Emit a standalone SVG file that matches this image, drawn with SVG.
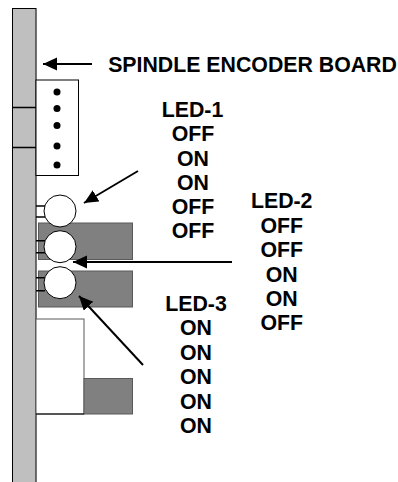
<svg xmlns="http://www.w3.org/2000/svg" width="398" height="482" viewBox="0 0 398 482">
<style>
text{font-family:"Liberation Sans",Arial,sans-serif;font-weight:bold;font-size:21.300px;fill:#000;text-anchor:middle}
.g{fill:#808080;stroke:#595959;stroke-width:1}
.c{fill:#fff;stroke:#000;stroke-width:1}
.l{stroke:#000;stroke-width:1.5;fill:none}
.a{stroke:#000;stroke-width:2;fill:none;marker-end:url(#ah)}
</style>
<defs><marker id="ah" markerUnits="userSpaceOnUse" markerWidth="15" markerHeight="14" refX="14" refY="6.500" orient="auto" viewBox="0 0 15 14"><path d="M0 0L14 6.500L0 13Z" fill="#000"/></marker></defs>
<rect width="398" height="482" fill="#fff"/>
<g id="board">
<rect x="12.500" y="8.500" width="23.500" height="480" fill="#bfbfbf" stroke="#000" stroke-width="1"/>
<path d="M36 9V482" stroke="#666" stroke-width="1"/>
<path class="l" d="M12.500 107.500H36M12.500 147.500H36"/>
</g>
<g id="connector">
<rect x="36" y="80" width="42.500" height="95.500" fill="#fff" stroke="#000" stroke-width="1"/>
<circle cx="57" cy="92" r="3.500"/><circle cx="57" cy="108.500" r="3.500"/><circle cx="57" cy="125.500" r="3.500"/><circle cx="57" cy="146" r="3.500"/><circle cx="57" cy="165" r="3.500"/>
</g>
<g id="blocks">
<rect class="g" x="38.500" y="223" width="94" height="36.500"/>
<rect class="g" x="38.500" y="271" width="94" height="36"/>
<rect x="36" y="319" width="48" height="95" fill="#fff" stroke="#595959" stroke-width="1"/>
<rect class="g" x="84" y="378.500" width="48.500" height="35.500"/>
<path d="M36 414H84" stroke="#000"/>
</g>
<g id="led-1"><path class="l" d="M36 206H45M36 217H45"/><circle class="c" cx="60" cy="211" r="16"/></g>
<g id="led-2"><path class="l" d="M36 240.700H45M36 252.700H45"/><circle class="c" cx="60" cy="246.700" r="16"/></g>
<g id="led-3"><path class="l" d="M36 277.700H45M36 290.700H45"/><circle class="c" cx="60" cy="282.700" r="16"/></g>
<g id="connectors">
<path class="a" d="M92 64H43"/>
<path class="a" d="M138 171L84 203"/>
<path class="a" d="M232 262H73"/>
<path class="a" d="M143 365L79 296"/>
</g>
<g id="labels">
<text x="252.500" y="71.500">SPINDLE ENCODER BOARD</text>
<text x="192.500" y="116.700">LED-1</text><text x="193" y="141">OFF</text><text x="193" y="165.500">ON</text><text x="193" y="190">ON</text><text x="193" y="214">OFF</text><text x="193" y="238.300">OFF</text>
<text x="281.700" y="208">LED-2</text><text x="281.700" y="232.500">OFF</text><text x="281.700" y="256.700">OFF</text><text x="281.700" y="281.500">ON</text><text x="281.700" y="306">ON</text><text x="281.700" y="330">OFF</text>
<text x="196" y="310.700">LED-3</text><text x="196" y="335">ON</text><text x="196" y="360">ON</text><text x="196" y="384.300">ON</text><text x="196" y="409">ON</text><text x="196" y="433.300">ON</text>
</g>
</svg>
